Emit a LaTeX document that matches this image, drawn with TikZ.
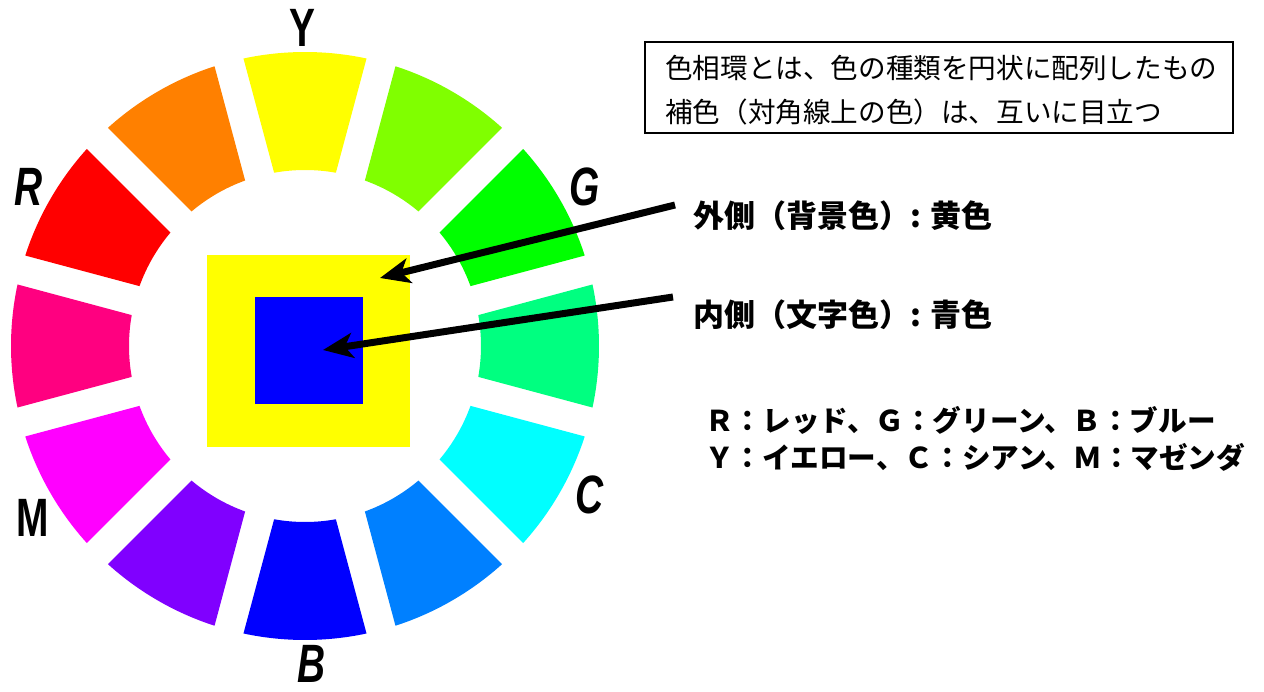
\documentclass[tikz,border=0pt]{standalone}
\usepackage{fontspec}
\usetikzlibrary{arrows.meta}
\newfontfamily\jp{Noto Sans CJK JP}
\newfontfamily\lab{Liberation Sans}
\definecolor{pureyellow}{HTML}{FFFF00}
\definecolor{pureblue}{HTML}{0000FF}
\tikzset{
  wlab/.style={font=\lab\bfseries\fontsize{54}{54}\selectfont, xscale=0.72, inner sep=0pt},
  wlabi/.style={wlab, font=\lab\bfseries\itshape\fontsize{54}{54}\selectfont},
  bigarrow/.style={line width=7pt, -{Stealth[length=30pt,width=25pt,inset=8pt]}},
  boxtext/.style={font=\jp\fontsize{27.6}{30}\selectfont, anchor=west, inner sep=0pt},
  labtext/.style={font=\jp\bfseries\fontsize{31}{33}\selectfont, anchor=west, inner sep=0pt},
  legtext/.style={font=\jp\bfseries\fontsize{28.6}{30}\selectfont, anchor=west, inner sep=0pt},
}
\begin{document}
\begin{tikzpicture}[x=1pt,y=-1pt]
\useasboundingbox (0,0) rectangle (1264,692);
% colour wheel
\begin{scope}[shift={(305,346)}, yscale=-1]
  \foreach \a/\c in {90/FFFF00,120/FF8000,150/FF0000,180/FF0080,210/FF00FF,240/8000FF,
                     270/0000FF,300/0080FF,330/00FFFF,0/00FF80,30/00FF00,60/80FF00} {
    \definecolor{segc}{HTML}{\c}
    \pgfmathsetmacro{\oa}{\a-12.08}
    \pgfmathsetmacro{\ob}{\a+12.08}
    \pgfmathsetmacro{\ia}{\a+10.11}
    \pgfmathsetmacro{\ib}{\a-10.11}
    \fill[segc] (\oa:294) arc[start angle=\oa, end angle=\ob, radius=294]
      -- (\ia:176) arc[start angle=\ia, end angle=\ib, radius=176] -- cycle;
  }
\end{scope}
% wheel labels
\node[wlab]  (lY) at (302,28)  {Y};
\node[wlabi] (lR) at (29,187)  {R};
\node[wlabi] (lG) at (585,187) {G};
\node[wlabi] (lC) at (590,495) {C};
\node[wlabi] (lB) at (312,664) {B};
\node[wlab]  (lM) at (33,518)  {M};
% squares
\node[fill=pureyellow, minimum width=203pt, minimum height=192pt, inner sep=0pt] (outer) at (308.5,351) {};
\node[fill=pureblue, minimum width=108pt, minimum height=107pt, inner sep=0pt] (inner) at (309,350.5) {};
% description box
\node[draw, line width=1.5pt, minimum width=588pt, minimum height=91pt, inner sep=0pt] (box) at (939,87.5) {};
\node[boxtext] (b1) at (665,68)  {色相環とは、色の種類を円状に配列したもの};
\node[boxtext] (b2) at (665,112) {補色（対角線上の色）は、互いに目立つ};
% labels
\node[labtext] (t1) at (693,216) {外側（背景色）: 黄色};
\node[labtext] (t2) at (693,315) {内側（文字色）: 青色};
% legend
\node[legtext] (g1) at (705,420) {Ｒ：レッド、Ｇ：グリーン、Ｂ：ブルー};
\node[legtext] (g2) at (705,457) {Ｙ：イエロー、Ｃ：シアン、Ｍ：マゼンダ};
% arrows
\coordinate (a1s) at (675,205);
\coordinate (a1e) at (380,278);
\coordinate (a2s) at (673,297);
\coordinate (a2e) at (323,350);
\draw[bigarrow] (a1s) -- (a1e);
\draw[bigarrow] (a2s) -- (a2e);
\end{tikzpicture}
\end{document}
